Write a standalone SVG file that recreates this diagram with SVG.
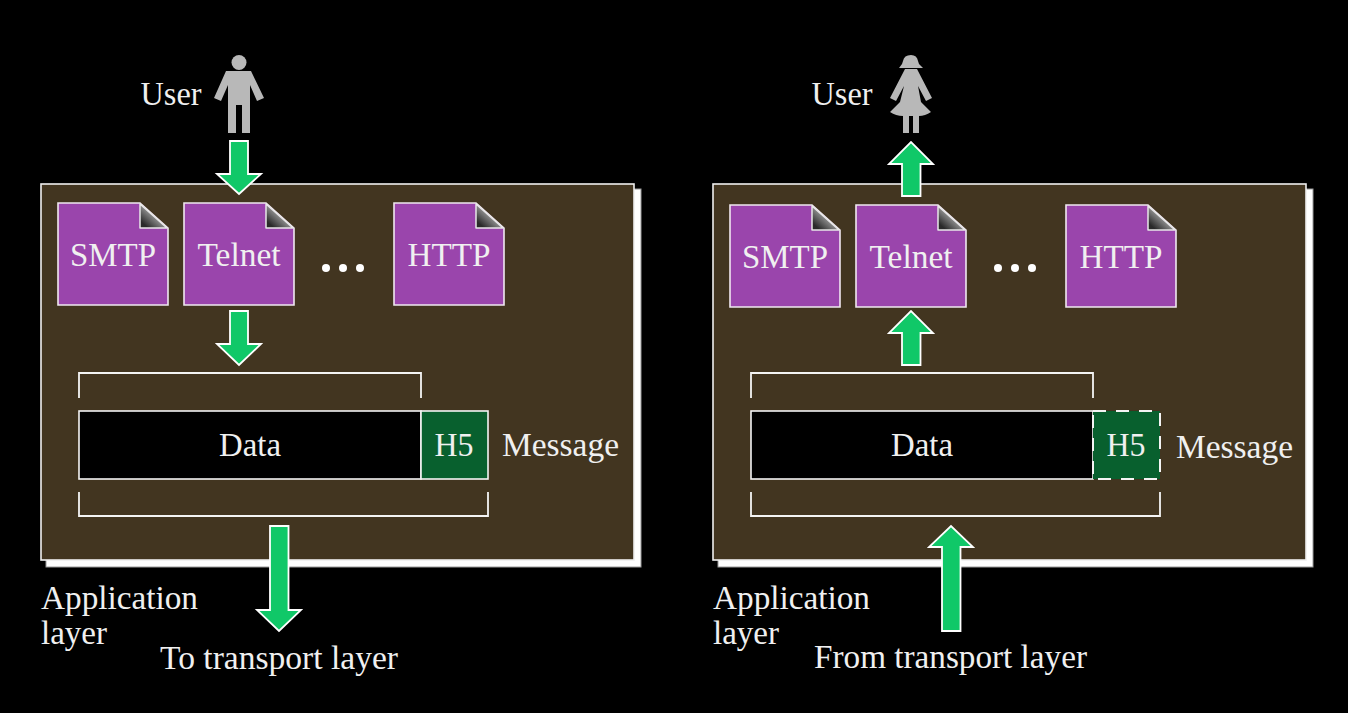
<svg xmlns="http://www.w3.org/2000/svg" xmlns:xlink="http://www.w3.org/1999/xlink" width="1348" height="713" viewBox="0 0 1348 713">
<style>
text{font-family:"Liberation Serif","Times New Roman",serif;font-size:33px;fill:#f0f0f0}
.m{text-anchor:middle}
.panel{fill:#423520;stroke:#efefef;stroke-width:1.6}
.shadow{fill:#fff;stroke:#999;stroke-width:1}
.doc{fill:#9a45ac;stroke:#f0e8f0;stroke-width:1.6}
.arrow{fill:#10c868;stroke:#fff;stroke-width:1.8}
.br{fill:none;stroke:#f4f4f4;stroke-width:1.8}
.data{fill:#000;stroke:#f4f4f4;stroke-width:1.6}
.h5{fill:#08602e;stroke:#f4f4f4;stroke-width:1.6}
.h5d{fill:#08602e;stroke:#f4f4f4;stroke-width:2;stroke-dasharray:13 10}
.dot{fill:#fff}
.fig{fill:#b8b8b8}
</style>
<defs>
<linearGradient id="fold" x1="0" y1="1" x2="1" y2="0"><stop offset="0.15" stop-color="#2a2a2a"/><stop offset="0.7" stop-color="#c4c4c4"/></linearGradient>
<g id="docshape">
<path class="doc" d="M0 0H82L110 25V102H0Z"/>
<path d="M82 1V25H109Z" fill="url(#fold)" stroke="#e8e8e8" stroke-width="1.5" stroke-linejoin="round"/>
</g>
</defs>
<rect width="1348" height="713" fill="#000"/>

<g id="left-layer">
<rect class="shadow" x="46" y="189" width="595" height="378"/>
<rect class="panel" x="41" y="184" width="593" height="376"/>
</g>
<g id="right-layer">
<rect class="shadow" x="718" y="189" width="595" height="378"/>
<rect class="panel" x="713" y="184" width="593" height="376"/>
</g>

<g id="user-male">
<circle class="fig" cx="239" cy="62.500" r="7.500"/>
<path class="fig" d="M226 71H251L264 98L257 101L250 85V133H242V105H236V133H228V85L221 101L214 98Z"/>
<text x="171" y="105" class="m" textLength="61" lengthAdjust="spacingAndGlyphs">User</text>
</g>
<g id="user-female">
<path class="fig" d="M903 61Q904 55 911 55Q917 55 918 61L919 64L923 68H899L902 64Z"/>
<path class="fig" d="M905 69H917L932 98L926 101L918 86L921 102L931 112Q925 116 919 116V133H913V116H909V133H903V116Q896 116 890 112L900 102L904 86L896 101L890 98Z"/>
<text x="842" y="105" class="m" textLength="61" lengthAdjust="spacingAndGlyphs">User</text>
</g>

<g id="left-smtp"><use xlink:href="#docshape" x="58" y="203"/><text x="113" y="266" class="m" textLength="86" lengthAdjust="spacingAndGlyphs">SMTP</text></g>
<g id="left-telnet"><use xlink:href="#docshape" x="184" y="203"/><text x="239" y="266" class="m" textLength="83" lengthAdjust="spacingAndGlyphs">Telnet</text></g>
<g id="left-dots"><circle class="dot" cx="326" cy="268" r="4"/><circle class="dot" cx="343" cy="268" r="4"/><circle class="dot" cx="360" cy="268" r="4"/></g>
<g id="left-http"><use xlink:href="#docshape" x="394" y="203"/><text x="449" y="266" class="m" textLength="83" lengthAdjust="spacingAndGlyphs">HTTP</text></g>

<g id="right-smtp"><use xlink:href="#docshape" x="730" y="205"/><text x="785" y="268" class="m" textLength="86" lengthAdjust="spacingAndGlyphs">SMTP</text></g>
<g id="right-telnet"><use xlink:href="#docshape" x="856" y="205"/><text x="911" y="268" class="m" textLength="83" lengthAdjust="spacingAndGlyphs">Telnet</text></g>
<g id="right-dots"><circle class="dot" cx="998" cy="268" r="4"/><circle class="dot" cx="1015" cy="268" r="4"/><circle class="dot" cx="1032" cy="268" r="4"/></g>
<g id="right-http"><use xlink:href="#docshape" x="1066" y="205"/><text x="1121" y="268" class="m" textLength="83" lengthAdjust="spacingAndGlyphs">HTTP</text></g>

<g id="left-message">
<rect class="data" x="79" y="411" width="342" height="68"/>
<text x="250" y="456" class="m" textLength="62" lengthAdjust="spacingAndGlyphs">Data</text>
<rect class="h5" x="421" y="411" width="67" height="68"/>
<text x="454" y="456" class="m" textLength="39" lengthAdjust="spacingAndGlyphs">H5</text>
<text x="502" y="456" textLength="117" lengthAdjust="spacingAndGlyphs">Message</text>
</g>
<g id="right-message">
<rect class="data" x="751" y="411" width="342" height="68"/>
<text x="922" y="456" class="m" textLength="62" lengthAdjust="spacingAndGlyphs">Data</text>
<rect class="h5d" x="1093" y="411" width="67" height="68"/>
<text x="1126" y="456" class="m" textLength="39" lengthAdjust="spacingAndGlyphs">H5</text>
<text x="1176" y="458" textLength="117" lengthAdjust="spacingAndGlyphs">Message</text>
</g>

<g id="left-label"><text x="41" y="609" textLength="157" lengthAdjust="spacingAndGlyphs">Application</text><text x="41" y="644" textLength="66" lengthAdjust="spacingAndGlyphs">layer</text></g>
<g id="right-label"><text x="713" y="609" textLength="157" lengthAdjust="spacingAndGlyphs">Application</text><text x="713" y="644" textLength="66" lengthAdjust="spacingAndGlyphs">layer</text></g>
<text id="to-transport" x="160" y="669" textLength="238" lengthAdjust="spacingAndGlyphs">To transport layer</text>
<text id="from-transport" x="814" y="668" textLength="273" lengthAdjust="spacingAndGlyphs">From transport layer</text>

<g id="connectors">
<path class="br" d="M79 398V373H421V398"/>
<path class="br" d="M79 492V516H488V492"/>
<path class="br" d="M751 398V373H1093V398"/>
<path class="br" d="M751 492V516H1160V492"/>
<path class="arrow" d="M230 141H248V174H261L239 194L217 174H230Z"/>
<path class="arrow" d="M230 311H248V344H261L239 365L217 344H230Z"/>
<path class="arrow" d="M270 526H288.500V610H301L279 631L257 610H270Z"/>
<path class="arrow" d="M902 196H920.500V164H933L911 142L889 164H902Z"/>
<path class="arrow" d="M902 365H920.500V333H933L911 311L889 333H902Z"/>
<path class="arrow" d="M942 631H960.500V547H973L951 526L929 547H942Z"/>
</g>
</svg>
